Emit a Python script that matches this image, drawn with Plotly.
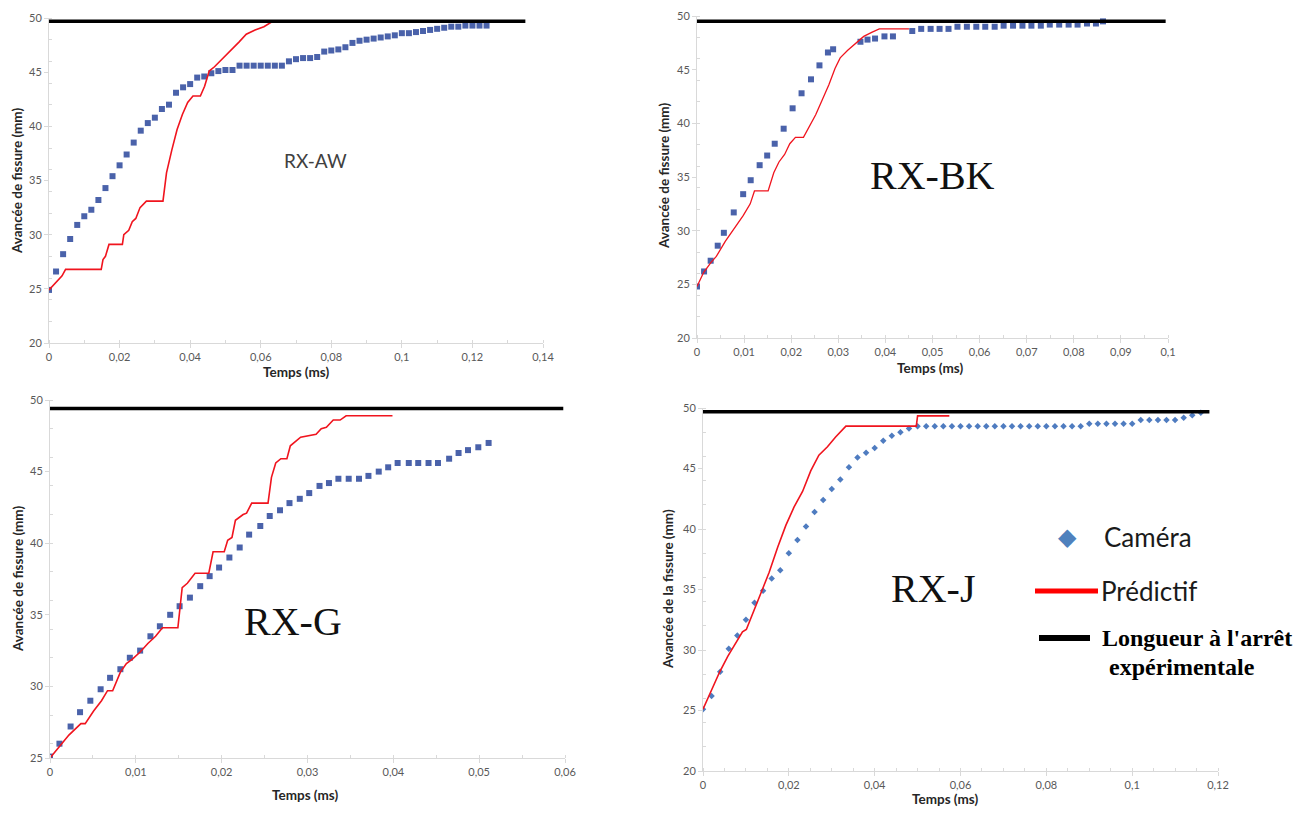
import plotly.graph_objects as go

# page body has an 8px margin; keep the figure inside the 1311x816 window
OFF = 8
W, H = 1311 - 2 * OFF, 816 - 2 * OFF

# ---------------- DATA ----------------
# RX-AW
aw_cam_t = [0.000, 0.002, 0.004, 0.006, 0.008, 0.010, 0.012, 0.014, 0.016, 0.018,
            0.020, 0.022, 0.024, 0.026, 0.028, 0.030, 0.032, 0.034, 0.036, 0.038,
            0.040, 0.042, 0.044, 0.046, 0.048, 0.050, 0.052, 0.054, 0.056, 0.058,
            0.060, 0.062, 0.064, 0.066, 0.068, 0.070, 0.072, 0.074, 0.076, 0.078,
            0.080, 0.082, 0.084, 0.086, 0.088, 0.090, 0.092, 0.094, 0.096, 0.098,
            0.100, 0.102, 0.104, 0.106, 0.108, 0.110, 0.112, 0.114, 0.116, 0.118,
            0.120, 0.122, 0.124]
aw_cam_y = [24.9, 26.6, 28.2, 29.6, 30.9, 31.7, 32.3, 33.2, 34.3, 35.4,
            36.4, 37.4, 38.5, 39.6, 40.3, 40.8, 41.6, 42.0, 43.1, 43.6,
            43.9, 44.5, 44.6, 44.9, 45.1, 45.2, 45.2, 45.6, 45.6, 45.6,
            45.6, 45.6, 45.6, 45.6, 46.0, 46.2, 46.3, 46.3, 46.4, 46.9,
            47.0, 47.1, 47.3, 47.7, 47.9, 48.0, 48.1, 48.2, 48.3, 48.4,
            48.6, 48.6, 48.7, 48.8, 48.9, 49.0, 49.1, 49.2, 49.2, 49.3,
            49.3, 49.3, 49.3]
aw_pred_t = [0.0, 0.0017, 0.0037, 0.0047, 0.0148, 0.0153, 0.016, 0.017, 0.0208, 0.0212,
             0.0226, 0.0236, 0.0246, 0.0258, 0.0276, 0.0323, 0.0333, 0.0348, 0.0363, 0.0378,
             0.0393, 0.0408, 0.0429, 0.0441, 0.0454, 0.0469, 0.0494, 0.0519, 0.0539, 0.0559,
             0.0584, 0.0609, 0.0634, 0.068]
aw_pred_y = [24.9, 25.5, 26.2, 26.8, 26.8, 27.7, 28.0, 29.1, 29.1, 30.0,
             30.4, 31.2, 31.5, 32.5, 33.1, 33.1, 35.7, 37.8, 39.7, 41.1,
             42.2, 42.8, 42.8, 43.7, 45.1, 45.5, 46.3, 47.1, 47.8, 48.5,
             48.9, 49.2, 49.7, 49.7]
aw_arret_t = [0.0, 0.135]
aw_arret_y = [49.7, 49.7]

# RX-BK
bk_cam_t = [0.0, 0.0015, 0.0029, 0.0044, 0.0057, 0.0078, 0.0098, 0.0114, 0.0133, 0.0149,
            0.0165, 0.0184, 0.0203, 0.0222, 0.0242, 0.026, 0.0278, 0.0289, 0.0347, 0.0362,
            0.0378, 0.0398, 0.0416, 0.0457, 0.0476, 0.0496, 0.0515, 0.0534, 0.0553, 0.0573,
            0.0593, 0.0612, 0.0632, 0.0651, 0.0671, 0.0691, 0.071, 0.073, 0.0749, 0.0769,
            0.0789, 0.0808, 0.0828, 0.0847, 0.0862]
bk_cam_y = [24.8, 26.2, 27.2, 28.6, 29.8, 31.7, 33.4, 34.7, 36.1, 37.0,
            38.1, 39.5, 41.4, 42.8, 44.1, 45.4, 46.6, 46.9, 47.6, 47.8,
            47.9, 48.1, 48.1, 48.6, 48.8, 48.8, 48.8, 48.8, 49.0, 49.0,
            49.0, 49.0, 49.0, 49.1, 49.1, 49.1, 49.1, 49.1, 49.2, 49.2,
            49.2, 49.2, 49.3, 49.3, 49.5]
bk_pred_t = [0.0, 0.0014, 0.0029, 0.0041, 0.006, 0.0079, 0.0098, 0.0113, 0.0122, 0.0151,
             0.0163, 0.0174, 0.0186, 0.0197, 0.0209, 0.0226, 0.0239, 0.0252, 0.0266, 0.028,
             0.0293, 0.0304, 0.032, 0.0335, 0.0354, 0.0372, 0.0387, 0.045]
bk_pred_y = [24.8, 26.1, 27.0, 27.6, 29.0, 30.2, 31.4, 32.5, 33.7, 33.7,
             35.4, 36.4, 37.1, 38.1, 38.7, 38.7, 39.8, 40.8, 42.2, 43.6,
             45.1, 46.1, 46.8, 47.4, 48.1, 48.5, 48.8, 48.8]
bk_arret_t = [0.0, 0.0995]
bk_arret_y = [49.5, 49.5]

# RX-G
g_cam_t = [0.0, 0.0011, 0.0024, 0.0035, 0.0047, 0.0059, 0.007, 0.0082, 0.0093, 0.0105,
           0.0117, 0.0128, 0.014, 0.0151, 0.0163, 0.0175, 0.0186, 0.0197, 0.0209, 0.0221,
           0.0232, 0.0245, 0.0256, 0.0268, 0.0279, 0.0291, 0.0302, 0.0314, 0.0325, 0.0336,
           0.0348, 0.036, 0.0371, 0.0383, 0.0394, 0.0405, 0.0418, 0.0429, 0.0441, 0.0452,
           0.0465, 0.0476, 0.0487, 0.0499, 0.0511]
g_cam_y = [25.1, 26.0, 27.2, 28.2, 29.0, 29.8, 30.6, 31.2, 32.0, 32.5,
           33.5, 34.2, 35.0, 35.6, 36.2, 37.0, 37.7, 38.3, 39.0, 39.7,
           40.6, 41.2, 41.9, 42.3, 42.8, 43.1, 43.5, 44.0, 44.2, 44.5,
           44.5, 44.5, 44.7, 45.0, 45.3, 45.6, 45.6, 45.6, 45.6, 45.6,
           45.9, 46.3, 46.5, 46.7, 47.0]
g_pred_t = [0.0, 0.0011, 0.0022, 0.0036, 0.0041, 0.0051, 0.006, 0.0067, 0.0073, 0.0082,
            0.0089, 0.0096, 0.0105, 0.0114, 0.0123, 0.0131, 0.0149, 0.0154, 0.016, 0.0169,
            0.0185, 0.019, 0.0203, 0.0207, 0.0212, 0.0216, 0.0225, 0.0229, 0.0235, 0.0254,
            0.0258, 0.0263, 0.0269, 0.0276, 0.028, 0.0292, 0.03, 0.031, 0.0316, 0.0322,
            0.033, 0.0338, 0.0345, 0.0399]
g_pred_y = [25.0, 25.8, 26.6, 27.4, 27.4, 28.3, 29.0, 29.7, 29.7, 31.0,
            31.6, 31.9, 32.4, 33.0, 33.5, 34.1, 34.1, 36.9, 37.2, 37.9,
            37.9, 39.4, 39.4, 40.2, 40.4, 41.6, 42.0, 42.1, 42.8, 42.8,
            44.6, 45.6, 45.9, 45.9, 46.8, 47.4, 47.5, 47.6, 48.0, 48.1,
            48.6, 48.6, 48.9, 48.9]
g_arret_t = [0.0, 0.0598]
g_arret_y = [49.4, 49.4]

# RX-J
j_cam_t = [0.000, 0.002, 0.004, 0.006, 0.008, 0.010, 0.012, 0.014, 0.016, 0.018,
           0.020, 0.022, 0.024, 0.026, 0.028, 0.030, 0.032, 0.034, 0.036, 0.038,
           0.040, 0.042, 0.044, 0.046, 0.048, 0.050, 0.052, 0.054, 0.056, 0.058,
           0.060, 0.062, 0.064, 0.066, 0.068, 0.070, 0.072, 0.074, 0.076, 0.078,
           0.080, 0.082, 0.084, 0.086, 0.088, 0.090, 0.092, 0.094, 0.096, 0.098,
           0.100, 0.102, 0.104, 0.106, 0.108, 0.110, 0.112, 0.114, 0.116]
j_cam_y = [25.1, 26.2, 28.2, 30.1, 31.2, 32.5, 33.9, 34.9, 35.9, 36.6,
           38.0, 39.1, 40.2, 41.4, 42.4, 43.3, 44.1, 45.1, 45.9, 46.3,
           46.7, 47.3, 47.7, 48.0, 48.3, 48.5, 48.5, 48.5, 48.5, 48.5,
           48.5, 48.5, 48.5, 48.5, 48.5, 48.5, 48.5, 48.5, 48.5, 48.5,
           48.5, 48.5, 48.5, 48.5, 48.5, 48.7, 48.7, 48.7, 48.7, 48.7,
           48.7, 49.0, 49.0, 49.0, 49.0, 49.0, 49.2, 49.4, 49.6]
j_pred_t = [0.0, 0.0019, 0.0039, 0.0058, 0.0079, 0.0092, 0.0101, 0.0116, 0.0135, 0.0154,
            0.0174, 0.0193, 0.0212, 0.0232, 0.0251, 0.027, 0.029, 0.0309, 0.0333, 0.0497,
            0.050, 0.0574]
j_pred_y = [25.1, 26.6, 28.2, 29.5, 30.7, 31.5, 31.7, 33.0, 34.7, 36.4,
            38.5, 40.3, 41.8, 43.1, 44.8, 46.1, 46.8, 47.6, 48.5, 48.5,
            49.35, 49.35]
j_arret_t = [0.0, 0.118]
j_arret_y = [49.7, 49.7]

# Tick labels
aw_xticks = [0, 0.02, 0.04, 0.06, 0.08, 0.1, 0.12, 0.14]
aw_xlabels = ["0", "0,02", "0,04", "0,06", "0,08", "0,1", "0,12", "0,14"]
bk_xticks = [0, 0.01, 0.02, 0.03, 0.04, 0.05, 0.06, 0.07, 0.08, 0.09, 0.1]
bk_xlabels = ["0", "0,01", "0,02", "0,03", "0,04", "0,05", "0,06", "0,07", "0,08", "0,09", "0,1"]
g_xticks = [0, 0.01, 0.02, 0.03, 0.04, 0.05, 0.06]
g_xlabels = ["0", "0,01", "0,02", "0,03", "0,04", "0,05", "0,06"]
j_xticks = [0, 0.02, 0.04, 0.06, 0.08, 0.1, 0.12]
j_xlabels = ["0", "0,02", "0,04", "0,06", "0,08", "0,1", "0,12"]
y_ticks_20 = [20, 25, 30, 35, 40, 45, 50]
y_ticks_25 = [25, 30, 35, 40, 45, 50]

panel_names = ["RX-AW", "RX-BK", "RX-G", "RX-J"]
legend_names = ["Caméra", "Prédictif", "Longueur à l'arrêt", "expérimentale"]

# ---------------- STYLE ----------------
CAM_COL = "#4A62AA"
CAM_COL_J = "#4F7CC0"
RED = "#F0141E"
BLACK = "#000000"
AXCOL = "#D9D9D9"
TICKFONT = dict(family="Lato, Open Sans, sans-serif", size=11, color="#595959")
TITLEFONT = dict(family="Lato, Open Sans, sans-serif", size=13.5, color="#262626")

def px_x(p):
    return (p - OFF) / W

def px_y(p):
    return 1 - (p - OFF) / H

# plot areas in window pixels: (left, right, top, bottom)
boxes = [(49, 543, 18, 343), (697, 1168, 16, 338), (50, 565, 400, 758), (703, 1218, 408, 771)]

fig = go.Figure()

panels = [
    (aw_cam_t, aw_cam_y, aw_pred_t, aw_pred_y, aw_arret_t, aw_arret_y),
    (bk_cam_t, bk_cam_y, bk_pred_t, bk_pred_y, bk_arret_t, bk_arret_y),
    (g_cam_t, g_cam_y, g_pred_t, g_pred_y, g_arret_t, g_arret_y),
    (j_cam_t, j_cam_y, j_pred_t, j_pred_y, j_arret_t, j_arret_y),
]
for i, (ct, cy, pt, py, at, ay) in enumerate(panels):
    xa = "x" if i == 0 else f"x{i+1}"
    ya = "y" if i == 0 else f"y{i+1}"
    if i < 3:
        mk = dict(symbol="square", size=6, color=CAM_COL)
    else:
        mk = dict(symbol="diamond", size=5, color=CAM_COL_J)
    fig.add_trace(go.Scatter(x=ct, y=cy, mode="markers", marker=mk, name=legend_names[0],
                             xaxis=xa, yaxis=ya, showlegend=False))
    fig.add_trace(go.Scatter(x=pt, y=py, mode="lines", line=dict(color=RED, width=1.6 if i != 1 else 1.3),
                             name=legend_names[1], xaxis=xa, yaxis=ya, showlegend=False))
    fig.add_trace(go.Scatter(x=at, y=ay, mode="lines", line=dict(color=BLACK, width=3.5),
                             name=legend_names[2], xaxis=xa, yaxis=ya, showlegend=False))

xranges = [[0, 0.14], [0, 0.1], [0, 0.06], [0, 0.12]]
yranges = [[20, 50], [20, 50], [25, 50], [20, 50]]
xtv = [aw_xticks, bk_xticks, g_xticks, j_xticks]
xtt = [aw_xlabels, bk_xlabels, g_xlabels, j_xlabels]
ytv = [y_ticks_20, y_ticks_20, y_ticks_25, y_ticks_20]

layout = dict(width=W, height=H, margin=dict(l=0, r=0, t=0, b=0, autoexpand=False),
              plot_bgcolor="white", paper_bgcolor="white", showlegend=False)
for i in range(4):
    l, r, t, b = boxes[i]
    xk = "xaxis" if i == 0 else f"xaxis{i+1}"
    yk = "yaxis" if i == 0 else f"yaxis{i+1}"
    ya = "y" if i == 0 else f"y{i+1}"
    xa = "x" if i == 0 else f"x{i+1}"
    common = dict(automargin=False, showgrid=False, zeroline=False,
                  showline=True, linecolor=AXCOL, linewidth=1, ticklabeloverflow="allow",
                  ticks="outside", ticklen=4, tickcolor=AXCOL, tickfont=TICKFONT,
                  minor=dict(ticks="inside", ticklen=3, tickcolor=AXCOL, nticks=5))
    layout[xk] = dict(domain=[px_x(l), px_x(r)], range=xranges[i], anchor=ya,
                      tickvals=xtv[i], ticktext=xtt[i], **common)
    layout[yk] = dict(domain=[px_y(b), px_y(t)], range=yranges[i], anchor=xa,
                      tickvals=ytv[i], **common)
fig.update_layout(**layout)

ann = []
# axis titles (paper coordinates, pixel-based)
xt_pos = [(296, 372), (930, 368), (305, 795), (945, 799)]
yt_pos = [(17, 181), (664, 176), (18, 579), (668, 589)]
ylabels = ["Avancée de fissure (mm)", "Avancée de fissure (mm)",
           "Avancée de fissure (mm)", "Avancée de la fissure (mm)"]
for i in range(4):
    ann.append(dict(x=px_x(xt_pos[i][0]), y=px_y(xt_pos[i][1]), xref="paper", yref="paper",
                    text="<b>Temps (ms)</b>", showarrow=False, font=TITLEFONT,
                    xanchor="center", yanchor="middle"))
    ann.append(dict(x=px_x(yt_pos[i][0]), y=px_y(yt_pos[i][1]), xref="paper", yref="paper",
                    text=f"<b>{ylabels[i]}</b>", showarrow=False, font=TITLEFONT, textangle=-90,
                    xanchor="center", yanchor="middle"))

# panel labels in data coordinates
lbl_pos = [(0.0755, 36.8), (0.0499, 35.1), (0.0283, 34.5), (0.0536, 35.1)]
for i in range(4):
    xa = "x" if i == 0 else f"x{i+1}"
    ya = "y" if i == 0 else f"y{i+1}"
    if i == 0:
        f = dict(family="Lato, Open Sans, sans-serif", size=19, color="#404040")
    else:
        f = dict(family="Liberation Serif, Times New Roman, serif", size=40, color="#111111")
    ann.append(dict(x=lbl_pos[i][0], y=lbl_pos[i][1], xref=xa, yref=ya, text=panel_names[i],
                    showarrow=False, font=f, xanchor="center", yanchor="middle"))

# legend (custom, paper coordinates)
LEGFONT = dict(family="Lato, Open Sans, sans-serif", size=26, color="#1a1a1a")
SERIFB = dict(family="Liberation Serif, Times New Roman, serif", size=24, color="#000000")
ann.append(dict(x=px_x(1067), y=px_y(537), xref="paper", yref="paper", text="◆",
                showarrow=False, font=dict(family="DejaVu Sans", size=24, color="#4F81BD"),
                xanchor="center", yanchor="middle"))
ann.append(dict(x=px_x(1102), y=px_y(537), xref="paper", yref="paper", text=legend_names[0],
                showarrow=False, font=LEGFONT, xanchor="left", yanchor="middle"))
ann.append(dict(x=px_x(1099), y=px_y(591), xref="paper", yref="paper", text=legend_names[1],
                showarrow=False, font=LEGFONT, xanchor="left", yanchor="middle"))
ann.append(dict(x=px_x(1100), y=px_y(638), xref="paper", yref="paper", text=f"<b>{legend_names[2]}</b>",
                showarrow=False, font=SERIFB, xanchor="left", yanchor="middle"))
ann.append(dict(x=px_x(1107), y=px_y(667), xref="paper", yref="paper", text=f"<b>{legend_names[3]}</b>",
                showarrow=False, font=SERIFB, xanchor="left", yanchor="middle"))

shapes = [
    dict(type="line", xref="paper", yref="paper", x0=px_x(1035), x1=px_x(1098),
         y0=px_y(591), y1=px_y(591), line=dict(color="#FF0000", width=5)),
    dict(type="line", xref="paper", yref="paper", x0=px_x(1039), x1=px_x(1090),
         y0=px_y(638), y1=px_y(638), line=dict(color="#000000", width=6)),
]
fig.update_layout(annotations=ann, shapes=shapes)

fig.write_html("out.html")
